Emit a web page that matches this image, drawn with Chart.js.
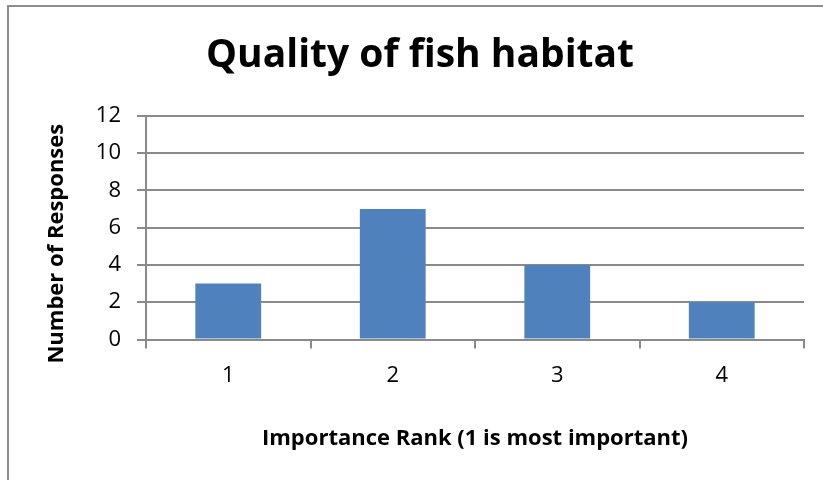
<!DOCTYPE html>
<html>
<head>
<meta charset="utf-8">
<script src="https://cdn.jsdelivr.net/npm/chart.js@4/dist/chart.umd.min.js"></script>
<style>
    body { margin: 0; background: #fff; }
    #frame { position: absolute; left: 7px; top: 5px; width: 830px; height: 490px;
             border-left: 2px solid #8c8c8c; border-top: 2px solid #8c8c8c; }
    #chart { position: absolute; left: 0; top: 0; }
</style>
</head>
<body>
<div id="frame"></div>
<canvas id="chart" width="823" height="480"></canvas>
<script>
var ranks = ["1", "2", "3", "4"];
var responses = [3, 7, 4, 2];
var yTicks = [0, 2, 4, 6, 8, 10, 12];

var chartTitle = "Quality of fish habitat";
var xTitle = "Importance Rank (1 is most important)";
var yTitle = "Number of Responses";

var fontFamily = '"Open Sans", Lato, sans-serif';
var axisGrey = '#8a8a8a';

// rotated y title, sits a bit below the middle of the plot
var yTitlePlugin = {
    id: 'yTitlePlugin',
    afterDraw: function(chart) {
        var ctx = chart.ctx;
        var area = chart.chartArea;
        ctx.save();
        ctx.translate(57, (area.top + area.bottom) / 2 + 16);
        ctx.rotate(-Math.PI / 2);
        ctx.font = 'bold 22px ' + fontFamily;
        ctx.fillStyle = '#000';
        ctx.textAlign = 'center';
        ctx.textBaseline = 'middle';
        ctx.fillText(yTitle, 0, 0);
        ctx.restore();
    }
};

new Chart(document.getElementById("chart"), {
    type: "bar",
    data: {
        labels: ranks,
        datasets: [{
            label: "Responses",
            data: responses,
            backgroundColor: '#4F81BD',
            borderWidth: 0,
            barPercentage: 0.4,
            categoryPercentage: 1.0
        }]
    },
    options: {
        responsive: false,
        animation: false,
        layout: { padding: { top: 0, left: 36, right: 19, bottom: 0 } },
        plugins: {
            legend: { display: false },
            tooltip: { enabled: false },
            title: {
                display: true,
                text: chartTitle,
                color: '#000',
                font: { family: fontFamily, size: 39, weight: 'bold' },
                padding: { top: 32, bottom: 37 }
            }
        },
        scales: {
            x: {
                grid: { display: true, drawOnChartArea: false, drawTicks: true, tickLength: 9,
                        color: axisGrey, lineWidth: 2 },
                border: { display: true, color: axisGrey, width: 2 },
                ticks: { color: '#000', font: { family: fontFamily, size: 22 }, padding: 14 },
                title: {
                    display: true,
                    text: xTitle,
                    color: '#000',
                    font: { family: fontFamily, size: 22, weight: 'bold' },
                    padding: { top: 28, bottom: 28 }
                },
                afterFit: function(scale) { scale.height = 140.5; }
            },
            y: {
                min: 0,
                max: 12,
                afterBuildTicks: function(scale) {
                    scale.ticks = yTicks.map(function(v) { return { value: v }; });
                },
                grid: { color: axisGrey, lineWidth: 2, drawTicks: true, tickLength: 9 },
                border: { display: true, color: axisGrey, width: 2 },
                ticks: { color: '#000', font: { family: fontFamily, size: 22 }, padding: 16 },
                afterFit: function(scale) { scale.width = 110; }
            }
        }
    },
    plugins: [yTitlePlugin]
});
</script>
</body>
</html>
